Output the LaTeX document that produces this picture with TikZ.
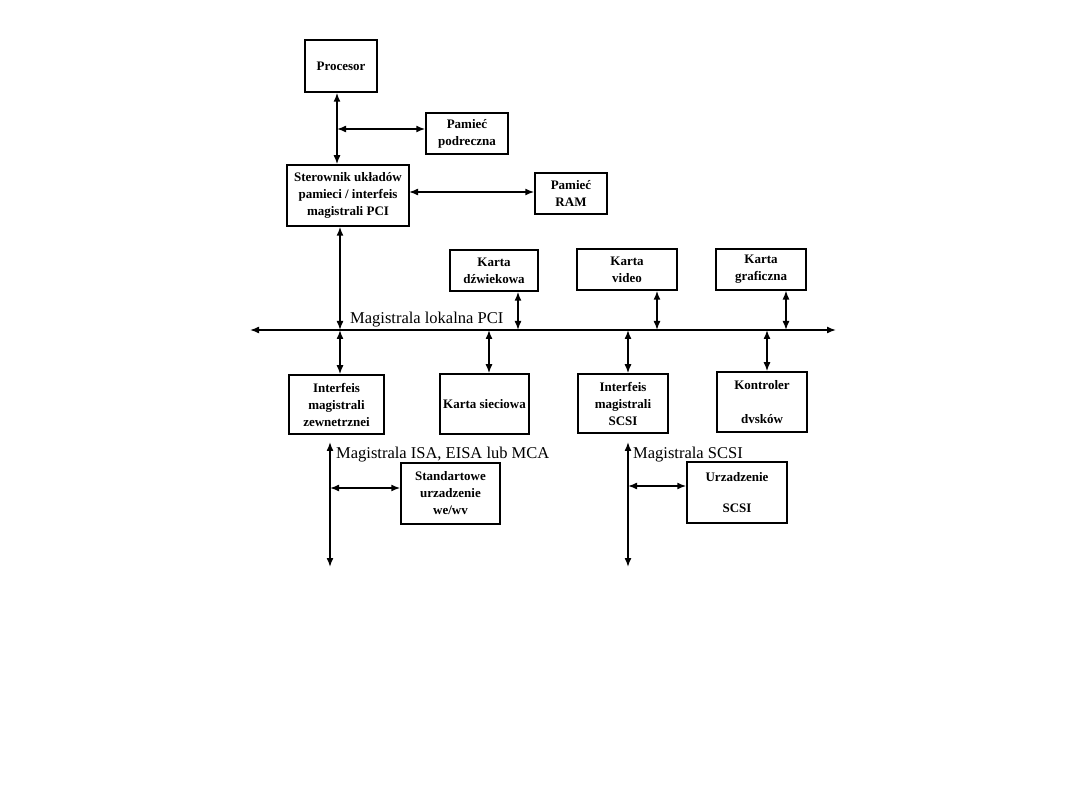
\documentclass[tikz,border=0pt]{standalone}
\usepackage{fontspec}
\setmainfont{Liberation Serif}
\usetikzlibrary{arrows.meta}
\begin{document}
\begin{tikzpicture}[x=1pt,y=-1pt,
  box/.style={draw, line width=1.5pt, inner sep=0pt, align=center,
    font=\bfseries\fontsize{13}{17}\selectfont},
  buslbl/.style={inner sep=0pt, font=\fontsize{16.5}{19}\selectfont},
  dar/.style={line width=1.5pt, {Latex[length=9pt,width=7pt]}-{Latex[length=9pt,width=7pt]}}]
\useasboundingbox[fill=white] (0,0) rectangle (1080,810);
% boxes
\node[box, minimum width=72pt, minimum height=52pt] (proc) at (341,66) {Procesor};
\node[box, minimum width=82pt, minimum height=41pt] (podr) at (467,133.5) {Pamieć\\podreczna};
\node[box, minimum width=122pt, minimum height=61pt] (ster) at (348,195.5) {Sterownik układów\\pamieci / interfeis\\magistrali PCI};
\node[box, minimum width=72pt, minimum height=41pt] (ram) at (571,193.5) {Pamieć\\RAM};
\node[box, minimum width=88pt, minimum height=41pt] (dzw) at (494,270.5) {Karta\\dźwiekowa};
\node[box, minimum width=100pt, minimum height=41pt] (video) at (627,269.5) {Karta\\video};
\node[box, minimum width=90pt, minimum height=41pt] (graf) at (761,269.3) {Karta\\graficzna};
\node[box, minimum width=95pt, minimum height=59pt] (izew) at (336.5,404.5) {Interfeis\\magistrali\\zewnetrznei};
\node[box, minimum width=89pt, minimum height=60pt] (siec) at (484.5,404) {Karta sieciowa};
\node[box, minimum width=90pt, minimum height=59pt] (iscsi) at (623,403.5) {Interfeis\\magistrali\\SCSI};
\node[box, minimum width=90pt, minimum height=60pt] (kontr) at (762,402) {Kontroler\\[17pt]dvsków};
\node[box, minimum width=99pt, minimum height=61pt] (std) at (450.5,493.5) {Standartowe\\urzadzenie\\we/wv};
\node[box, minimum width=100pt, minimum height=61pt] (uscsi) at (737,492.5) {Urzadzenie\\[14pt]SCSI};
% coordinates
\coordinate (j1) at (337,129);
\coordinate (r1) at (409,192);
\coordinate (busL) at (250,330);
\coordinate (busR) at (836,330);
\coordinate (c1) at (340,330);
\coordinate (c2) at (518,330);
\coordinate (c3) at (657,330);
\coordinate (c4) at (786,330);
\coordinate (c5) at (489,330);
\coordinate (c6) at (628,330);
\coordinate (c7) at (767,330);
\coordinate (isaT) at (330,442);
\coordinate (isaB) at (330,567);
\coordinate (isaJ) at (330,488);
\coordinate (scT) at (628,442);
\coordinate (scB) at (628,567);
\coordinate (scJ) at (628,486);
% connectors
\draw[dar] (j1 |- proc.south) -- (j1 |- ster.north);
\draw[dar] (j1) -- (j1 -| podr.west);
\draw[dar] (r1) -- (r1 -| ram.west);
\draw[dar] (busL) -- (busR);
\draw[dar] (c1 |- ster.south) -- (c1);
\draw[dar] (c1) -- (c1 |- izew.north);
\draw[dar] (c2 |- dzw.south) -- (c2);
\draw[dar] (c3 |- video.south) -- (c3);
\draw[dar] (c4 |- graf.south) -- (c4);
\draw[dar] (c5) -- (c5 |- siec.north);
\draw[dar] (c6) -- (c6 |- iscsi.north);
\draw[dar] (c7) -- (c7 |- kontr.north);
\draw[dar] (isaT) -- (isaB);
\draw[dar] (isaJ) -- (isaJ -| std.west);
\draw[dar] (scT) -- (scB);
\draw[dar] (scJ) -- (scJ -| uscsi.west);
% labels
\node[buslbl, anchor=base west] (pcilbl) at (350,324) {Magistrala lokalna PCI};
\node[buslbl, anchor=base west] (isalbl) at (336,458) {Magistrala ISA, EISA lub MCA};
\node[buslbl, anchor=base west] (scsilbl) at (633,458) {Magistrala SCSI};
\end{tikzpicture}
\end{document}
